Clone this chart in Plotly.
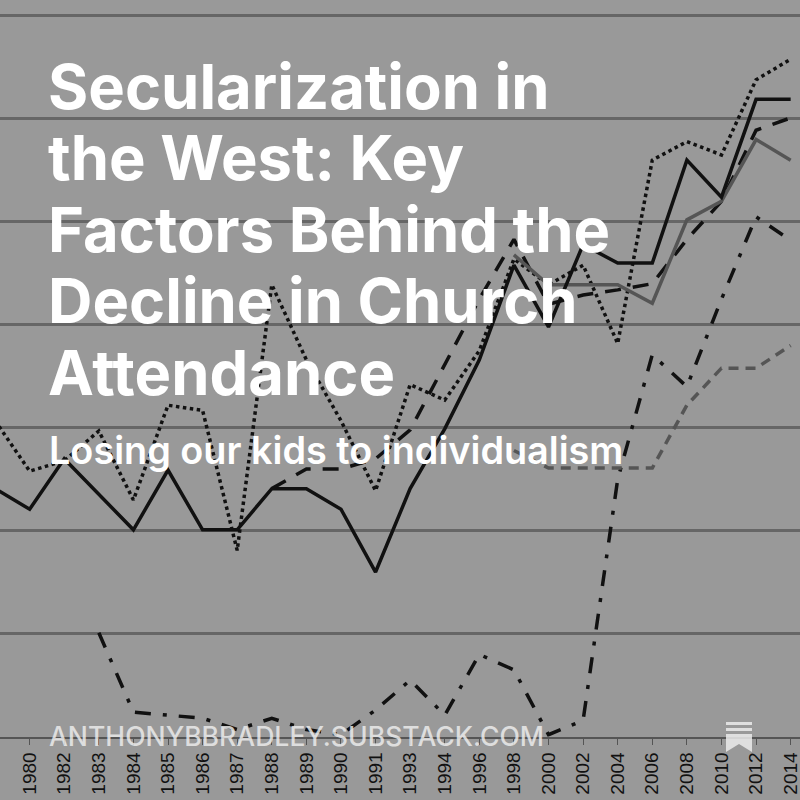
import plotly.graph_objects as go

years = ["1979","1980","1982","1983","1984","1985","1986","1987","1988","1989","1990","1991",
         "1993","1994","1996","1998","2000","2002","2004","2006","2008","2010","2012","2014"]
N = None
solid_black = [2.41,2.21,2.70,2.36,2.01,2.59,2.01,2.01,2.41,2.41,2.21,1.60,
               2.41,2.99,3.66,4.58,3.98,4.78,4.60,4.60,5.60,5.24,6.19,6.19]
dotted_black = [3.07,2.58,2.68,2.97,2.30,3.22,3.17,1.81,4.39,3.66,3.07,2.39,
                3.42,3.27,3.75,4.64,4.39,4.58,3.82,5.60,5.78,5.65,6.38,6.58]
dashed_black = [N,N,N,N,N,N,N,N,2.41,2.60,2.60,2.70,
                2.98,3.61,4.25,4.83,4.20,4.29,4.34,4.40,4.83,5.20,5.89,6.01]
gray_solid = [N]*15 + [4.68,4.39,4.39,4.39,4.21,5.02,5.20,5.80,5.60]
gray_dashed = [N]*15 + [2.78,2.61,2.61,2.61,2.61,3.22,3.58,3.58,3.80]
dashdot_black = [N,N,N,1.01,0.24,0.21,0.18,0.07,0.18,0.07,0.02,0.26,
                 0.55,0.21,0.80,0.65,0.02,0.16,2.50,3.71,3.40,4.25,5.05,4.82]

series = [
    (dashdot_black, "#111", 3.5, "16px,12px,4px,12px"),
    (gray_dashed, "#555", 3.5, "10px,7px"),
    (dashed_black, "#111", 3.5, "16px,12px"),
    (dotted_black, "#111", 3.5, "dot"),
    (gray_solid, "#555", 3.5, "solid"),
    (solid_black, "#111", 3.5, "solid"),
]

fig = go.Figure()
for vals, col, w, dash in series:
    fig.add_trace(go.Scatter(x=list(range(len(years))), y=vals, mode="lines",
                             line=dict(color=col, width=w, dash=dash),
                             connectgaps=False, hoverinfo="skip"))

fig.update_layout(
    width=800, height=800, showlegend=False,
    paper_bgcolor="#999999", plot_bgcolor="#999999",
    margin=dict(l=0, r=0, t=0, b=0),
    xaxis=dict(range=[0.143, 23.27], tickmode="array", tickvals=list(range(len(years))),
               ticktext=years, tickangle=-90, showgrid=False, zeroline=False,
               showline=True, linecolor="#555", linewidth=2, ticks="outside",
               tickcolor="#555", ticklen=6, ticklabeloverflow="allow",
               tickfont=dict(family="Liberation Sans", size=19, color="#111")),
    yaxis=dict(range=[0, 7.155], domain=[0.079, 1], showticklabels=False,
               gridcolor="#666", gridwidth=2.5, dtick=1, zeroline=False),
    font=dict(family="Inter"),
)

title_lines = ["Secularization in", "the West: Key", "Factors Behind the",
               "Decline in Church", "Attendance"]
for i, t in enumerate(title_lines):
    fig.add_annotation(text=t, xref="paper", yref="paper", x=46/800, y=1-(86+71.5*i)/800,
                       xanchor="left", yanchor="middle", showarrow=False,
                       font=dict(family="Inter", size=61.5, color="white", weight=700))
fig.add_annotation(text="Losing our kids to individualism", xref="paper", yref="paper",
                   x=47/800, y=1-450/800, xanchor="left", yanchor="middle", showarrow=False,
                   font=dict(family="Inter", size=37.8, color="white", weight=600))
fig.add_annotation(text="ANTHONYBBRADLEY.SUBSTACK.COM", xref="paper", yref="paper",
                   x=47/800, y=1-736/800, xanchor="left", yanchor="middle", showarrow=False,
                   font=dict(family="Inter", size=26.6, color="rgba(235,235,235,0.85)", weight=500))
ic = "rgba(235,235,235,0.85)"
for yy in (722, 728):
    fig.add_shape(type="rect", xref="paper", yref="paper", x0=726/800, x1=752/800,
                  y0=1-(yy+3)/800, y1=1-yy/800, fillcolor=ic, line_width=0)
fig.add_shape(type="path", xref="paper", yref="paper",
              path=f"M {726/800} {1-734/800} L {752/800} {1-734/800} L {752/800} {1-752/800} "
                   f"L {739/800} {1-744/800} L {726/800} {1-752/800} Z",
              fillcolor=ic, line_width=0)

fig.write_html("out.html", config={"displayModeBar": False})
with open("out.html", encoding="utf-8") as f:
    html = f.read()
html = html.replace("<body>", '<body style="margin:0;overflow:hidden">', 1)
with open("out.html", "w", encoding="utf-8") as f:
    f.write(html)
